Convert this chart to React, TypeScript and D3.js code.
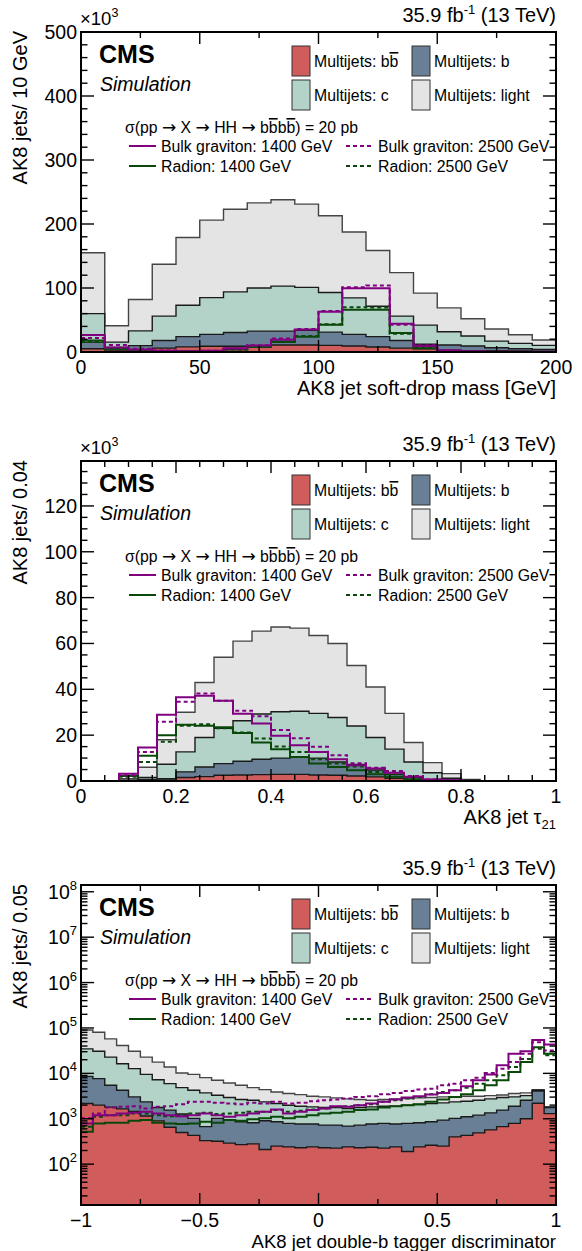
import * as d3 from 'd3'
import type { ReactNode } from 'react'

const FONT = '"Liberation Sans", Arial, Helvetica, sans-serif'
const LEFT = 81
const RIGHT = 556
const PANEL_H = 320

const FILL = { bb: '#d05c5c', b: '#687f95', c: '#b3d3c8', light: '#e4e4e4' }
const PURPLE = '#800080'
const GREEN = '#0a480a'

// ---- panel 1: soft-drop mass, 10 GeV bins, values in 10^3 jets
const massEdges = d3.range(0, 201, 10)
const massBB = [5, 3, 3, 6, 8, 9, 9, 9, 11, 11, 10.4, 9.3, 7.8, 6, 5, 3, 2, 2, 1.5, 1]
const massB = [10.5, 4, 7, 12, 16, 18.5, 21.5, 23.6, 21.6, 23, 20.6, 18.2, 16.2, 12, 7, 8, 7.3, 4.7, 3.5, 3]
const massC = [44.5, 8.5, 23, 38, 49, 57.5, 63.5, 67.4, 70.4, 67, 62, 57, 47.5, 38, 30, 20.6, 15.7, 10.3, 8.5, 6.4]
const massLight = [95, 25.5, 49, 81, 106, 121, 129, 133, 135, 130, 120, 103, 87, 68, 50, 37.4, 27, 19, 13.5, 8.3]
const massBulk1400 = [26.4, 7, 4, 2, 1, 2, 5.7, 10, 19, 35, 63, 99.5, 99.5, 44, 9.3, 2.5, 1, 0.5, 0.3, 0.2]
const massBulk2500 = [22, 11, 5, 2.5, 1.2, 2, 5, 10.5, 21, 36, 64, 101, 104, 42.5, 10.4, 2.5, 1, 0.5, 0.3, 0.2]
const massRad1400 = [18, 5, 2.5, 1.5, 1, 1.5, 4, 8, 15.5, 24, 42.5, 66, 66, 29.5, 5.7, 1.5, 0.7, 0.4, 0.2, 0.1]
const massRad2500 = [15.5, 6, 3, 1.5, 1, 1.5, 4, 8.5, 16, 25, 43.5, 70, 69.5, 28.5, 6.7, 1.5, 0.7, 0.4, 0.2, 0.1]

// ---- panel 2: tau21, 0.04 bins, values in 10^3 jets
const tauEdges = d3.range(26).map((i) => i * 0.04)
const tauBB = [0, 0, 0, 0, 0.3, 1.5, 1.9, 2.5, 2.6, 2.8, 2.9, 2.9, 2.6, 2.5, 2.2, 1.8, 1.2, 0.7, 0.3, 0, 0, 0, 0, 0, 0]
const tauB = [0, 0, 0.1, 0.7, 0.7, 2.5, 4.2, 5.1, 6, 6.7, 7.1, 7.5, 7.4, 5.8, 5, 3, 1.7, 0.9, 0.4, 0.3, 0, 0, 0, 0, 0]
const tauC = [0, 0, 0.2, 0.8, 6.3, 8.7, 12.9, 15.4, 17.7, 19.7, 20.2, 20, 19.5, 19.4, 16.8, 14.2, 11, 6.7, 2.9, 0.9, 0.3, 0, 0, 0, 0]
const tauLight = [0, 0, 0.7, 4.5, 10.7, 17.3, 24, 31, 34.7, 36.2, 37, 36.3, 34, 32.3, 26.4, 22, 15.6, 8.5, 4.4, 2, 0.4, 0, 0, 0, 0]
const tauBulk1400 = [0, 0, 3.2, 14.6, 28.9, 36.5, 37.2, 35, 29.3, 25.1, 19.7, 15.6, 12.7, 9.5, 6.9, 5.4, 3.6, 1.8, 0.7, 0.3, 0, 0, 0, 0, 0]
const tauBulk2500 = [0, 0, 2.5, 12.7, 25.8, 34.6, 38.2, 35, 30.7, 28.2, 22.3, 18.7, 14.9, 11.2, 7.7, 5.8, 4.4, 2.2, 0.7, 0.2, 0, 0, 0, 0, 0]
const tauRad1400 = [0, 0, 2.2, 11, 20, 24.5, 24.1, 23.4, 20.9, 16.8, 13.9, 10.5, 7.6, 6.1, 4.7, 2.9, 1.9, 0.7, 0.3, 0, 0, 0, 0, 0, 0]
const tauRad2500 = [0, 0, 1.9, 8.3, 17.1, 24.1, 24.8, 23, 21.2, 18.5, 15, 12.7, 9.5, 7.6, 6.3, 3.9, 2.9, 1.2, 0.4, 0.1, 0, 0, 0, 0, 0]

// ---- panel 3: double-b discriminator, 0.05 bins, jets (log scale)
const dbEdges = d3.range(41).map((i) => -1 + i * 0.05)
const dbBB = [2170, 2000, 1800, 1650, 1450, 1150, 900, 650, 500, 430, 330, 320, 290, 270, 280, 210, 250, 240, 230, 240, 230, 225, 240, 230, 235, 225, 240, 190, 240, 260, 250, 400, 430, 490, 570, 670, 790, 1000, 2200, 1300]
const dbB = [6430, 5640, 3660, 2590, 1580, 1210, 870, 900, 770, 590, 340, 700, 645, 590, 537, 694, 609, 550, 534, 524, 496, 501, 450, 496, 529, 565, 524, 600, 577, 599, 685, 620, 680, 710, 780, 880, 1100, 1560, 1900, 470]
const dbC = [26100, 23160, 17340, 12060, 9670, 7140, 5490, 4390, 3580, 3220, 3040, 2280, 1995, 1790, 1743, 1456, 1311, 1200, 1126, 1066, 1044, 1044, 990, 1044, 1066, 1100, 1126, 1200, 1243, 1311, 1305, 1340, 1330, 1360, 1390, 1380, 1140, 680, 150, 30]
const dbLight = [55700, 49500, 34600, 24700, 18100, 13300, 10440, 7860, 5350, 5260, 4330, 3730, 3210, 2810, 2290, 2030, 1730, 1600, 1520, 1300, 1260, 1110, 1060, 880, 730, 760, 850, 800, 820, 760, 790, 670, 690, 570, 500, 420, 560, 470, 140, 30]
const dbBulk1400 = [790, 1200, 1200, 1310, 1350, 1420, 1310, 1200, 1140, 1200, 1310, 1200, 1110, 1200, 1310, 1420, 1600, 1310, 1420, 1550, 1680, 1890, 1830, 1990, 2170, 2360, 2650, 2930, 3130, 3410, 3710, 4240, 5190, 7030, 9500, 15000, 27000, 30800, 54600, 43200]
const dbBulk2500 = [1020, 1310, 1770, 1830, 1890, 1680, 1830, 1890, 2100, 2360, 2360, 2240, 2170, 2100, 2240, 2170, 2360, 2170, 2240, 2440, 2560, 2650, 2790, 3030, 3130, 3470, 3710, 4100, 4390, 4610, 5460, 5940, 7030, 8040, 10200, 12700, 17700, 27000, 48500, 31900]
const dbRad1400 = [520, 790, 817, 817, 904, 935, 817, 790, 764, 790, 859, 817, 935, 904, 970, 1020, 1110, 1020, 1110, 1200, 1310, 1350, 1420, 1550, 1600, 1770, 1890, 1990, 2100, 2360, 2650, 3030, 3470, 4240, 5460, 7030, 10700, 17700, 37700, 27000]
const dbRad2500 = [668, 1110, 1200, 1200, 1310, 1310, 1200, 1140, 1200, 1310, 1350, 1270, 1310, 1350, 1420, 1420, 1550, 1420, 1500, 1600, 1680, 1830, 1890, 1990, 2100, 2360, 2560, 2790, 3030, 3470, 3900, 4240, 4850, 5940, 7030, 9040, 13800, 20700, 34700, 25000]

interface Signal { vals: number[]; color: string; dashed: boolean }
interface PanelProps {
  top: number
  edges: number[]
  stack: number[][]
  signals: Signal[]
  xDomain: [number, number]
  yDomain: [number, number]
  log?: boolean
  xMajor: number[]
  xMinor: number[]
  xLabels: string[]
  yMajor: number[]
  yMinor: number[]
  yLabels: ReactNode[]
  yTitle: string
  xTitle: ReactNode
  xTitleSize?: number
  exponent?: boolean
  id: string
}

const STACK_FILLS = [FILL.bb, FILL.b, FILL.c, FILL.light]

function Panel(p: PanelProps) {
  const bottom = p.top + PANEL_H
  const x = d3.scaleLinear().domain(p.xDomain).range([LEFT, RIGHT])
  const y = p.log
    ? d3.scaleLog().domain(p.yDomain).range([bottom, p.top])
    : d3.scaleLinear().domain(p.yDomain).range([bottom, p.top])
  const yMin = p.yDomain[0]
  const yv = (v: number) => y(Math.max(v, yMin))

  const pts = (vals: number[]) => vals.flatMap((v, i) => [[p.edges[i], v], [p.edges[i + 1], v]] as [number, number][])
  const line = d3.line<[number, number]>().x((d) => x(d[0])).y((d) => yv(d[1]))
  const area = d3.area<[number, number]>().x((d) => x(d[0])).y0(y(yMin)).y1((d) => yv(d[1]))

  // cumulative stack: bb, bb+b, bb+b+c, total
  const cum: number[][] = []
  p.stack.forEach((s, k) => cum.push(s.map((v, i) => v + (k ? cum[k - 1][i] : 0))))

  const tk = 1.4
  return (
    <g>
      <defs>
        <clipPath id={p.id}>
          <rect x={LEFT} y={p.top} width={RIGHT - LEFT} height={PANEL_H} />
        </clipPath>
      </defs>
      <g clipPath={`url(#${p.id})`}>
        {[3, 2, 1, 0].map((k) => (
          <g key={k}>
            <path d={area(pts(cum[k])) ?? ''} fill={STACK_FILLS[k]} />
            <path d={line(pts(cum[k])) ?? ''} fill="none" stroke={k === 3 ? '#444' : '#1a1a1a'} strokeWidth={1.4} />
          </g>
        ))}
        {p.signals.map((s, i) => (
          <path key={i} d={line(pts(s.vals)) ?? ''} fill="none" stroke={s.color} strokeWidth={2}
            strokeDasharray={s.dashed ? '4 3' : undefined} />
        ))}
      </g>

      {/* ticks */}
      {p.yMajor.map((v) => (
        <g key={'ym' + v} stroke="#000" strokeWidth={tk}>
          <line x1={LEFT} x2={LEFT + 13} y1={y(v)} y2={y(v)} />
          <line x1={RIGHT - 13} x2={RIGHT} y1={y(v)} y2={y(v)} />
        </g>
      ))}
      {p.yMinor.map((v) => (
        <g key={'yn' + v} stroke="#000" strokeWidth={tk}>
          <line x1={LEFT} x2={LEFT + 6.5} y1={y(v)} y2={y(v)} />
          <line x1={RIGHT - 6.5} x2={RIGHT} y1={y(v)} y2={y(v)} />
        </g>
      ))}
      {p.xMajor.map((v) => (
        <g key={'xm' + v} stroke="#000" strokeWidth={tk}>
          <line x1={x(v)} x2={x(v)} y1={bottom} y2={bottom - 12} />
          <line x1={x(v)} x2={x(v)} y1={p.top} y2={p.top + 12} />
        </g>
      ))}
      {p.xMinor.map((v) => (
        <g key={'xn' + v} stroke="#000" strokeWidth={tk}>
          <line x1={x(v)} x2={x(v)} y1={bottom} y2={bottom - 6} />
          <line x1={x(v)} x2={x(v)} y1={p.top} y2={p.top + 6} />
        </g>
      ))}
      <rect x={LEFT} y={p.top} width={RIGHT - LEFT} height={PANEL_H} fill="none" stroke="#000" strokeWidth={2} />

      {/* tick labels and titles */}
      <g fontFamily={FONT} fontSize={19.5} fill="#000">
        {p.yMajor.map((v, i) => (
          <text key={'yl' + v} x={LEFT - 4} y={y(v) + 7} textAnchor="end">{p.yLabels[i]}</text>
        ))}
        {p.xMajor.map((v, i) => (
          <text key={'xl' + v} x={x(v)} y={bottom + 22} textAnchor="middle">{p.xLabels[i]}</text>
        ))}
        <text transform={`translate(27, ${p.top - 1}) rotate(-90)`} textAnchor="end" fontSize={20}>{p.yTitle}</text>
        <text x={RIGHT} y={bottom + 43} textAnchor="end" fontSize={p.xTitleSize ?? 20}>{p.xTitle}</text>
        <text x={RIGHT} y={p.top - 10} textAnchor="end" fontSize={20}>
          35.9 fb<tspan fontSize={13} dy={-8}>-1</tspan><tspan dy={8}> (13 TeV)</tspan>
        </text>
        {p.exponent && (
          <text x={LEFT - 1} y={p.top - 7} fontSize={18.5}>
            ×10<tspan fontSize={12.5} dy={-8}>3</tspan>
          </text>
        )}
      </g>
      <Legend top={p.top} />
    </g>
  )
}

function Ov({ children }: { children: ReactNode }) {
  return <tspan style={{ textDecoration: 'overline' }}>{children}</tspan>
}

function Arrow() {
  return <tspan fontFamily='"DejaVu Sans", sans-serif' fontSize={17}>→</tspan>
}

function Legend({ top }: { top: number }) {
  const boxes = [
    { x: 292, y: top + 14, fill: FILL.bb, label: <>Multijets: b<Ov>b</Ov></> },
    { x: 412, y: top + 14, fill: FILL.b, label: <>Multijets: b</> },
    { x: 292, y: top + 48, fill: FILL.c, label: <>Multijets: c</> },
    { x: 412, y: top + 48, fill: FILL.light, label: <>Multijets: light</> },
  ]
  const lines = [
    { x: 129, y: top + 114, color: PURPLE, dashed: false, label: 'Bulk graviton: 1400 GeV' },
    { x: 346, y: top + 114, color: PURPLE, dashed: true, label: 'Bulk graviton: 2500 GeV' },
    { x: 129, y: top + 134, color: GREEN, dashed: false, label: 'Radion: 1400 GeV' },
    { x: 346, y: top + 134, color: GREEN, dashed: true, label: 'Radion: 2500 GeV' },
  ]
  return (
    <g fontFamily={FONT} fill="#000">
      <text x={99} y={top + 31} fontSize={25} fontWeight="bold">CMS</text>
      <text x={100} y={top + 59} fontSize={19.5} fontStyle="italic">Simulation</text>
      {boxes.map((b, i) => (
        <g key={i}>
          <rect x={b.x} y={b.y} width={18} height={30} fill={b.fill} stroke="#333" strokeWidth={1} />
          <text x={b.x + 22} y={b.y + 21} fontSize={15.8}>{b.label}</text>
        </g>
      ))}
      <text x={125} y={top + 101} fontSize={15.8}>
        σ(pp <Arrow /> X <Arrow /> HH <Arrow /> b<Ov>b</Ov>b<Ov>b</Ov>) = 20 pb
      </text>
      {lines.map((l, i) => (
        <g key={i}>
          <line x1={l.x} x2={l.x + 27} y1={l.y} y2={l.y} stroke={l.color} strokeWidth={2}
            strokeDasharray={l.dashed ? '4 3' : undefined} />
          <text x={l.x + 32} y={l.y + 5.5} fontSize={15.8}>{l.label}</text>
        </g>
      ))}
    </g>
  )
}

const sup = (n: number) => <>10<tspan fontSize={13} dy={-9}>{n}</tspan></>

export default function App() {
  const sig = (a: number[], b: number[], c: number[], d: number[]): Signal[] => [
    { vals: c, color: GREEN, dashed: false },
    { vals: d, color: GREEN, dashed: true },
    { vals: a, color: PURPLE, dashed: false },
    { vals: b, color: PURPLE, dashed: true },
  ]
  const logMajor = d3.range(2, 9).map((e) => Math.pow(10, e))
  const logMinor = d3.range(1, 9).flatMap((e) => d3.range(2, 10).map((m) => m * Math.pow(10, e)))
    .filter((v) => v > 12.6 && v < 1.41e8)

  return (
    <div style={{ position: 'absolute', left: 0, top: 0 }}>
      <svg width={582} height={1251} style={{ display: 'block', background: '#fff' }}>
        <Panel id="p1" top={32} edges={massEdges} stack={[massBB, massB, massC, massLight]}
          signals={sig(massBulk1400, massBulk2500, massRad1400, massRad2500)}
          xDomain={[0, 200]} yDomain={[0, 500]}
          xMajor={[0, 50, 100, 150, 200]} xMinor={[25, 75, 125, 175]} xLabels={['0', '50', '100', '150', '200']}
          yMajor={d3.range(0, 501, 100)} yMinor={d3.range(20, 500, 20).filter((v) => v % 100)}
          yLabels={['0', '100', '200', '300', '400', '500']}
          yTitle="AK8 jets/ 10 GeV" xTitle="AK8 jet soft-drop mass [GeV]" exponent />
        <Panel id="p2" top={461} edges={tauEdges} stack={[tauBB, tauB, tauC, tauLight]}
          signals={sig(tauBulk1400, tauBulk2500, tauRad1400, tauRad2500)}
          xDomain={[0, 1]} yDomain={[0, 139.6]}
          xMajor={[0, 0.2, 0.4, 0.6, 0.8, 1]} xMinor={d3.range(1, 20).filter((i) => i % 4).map((i) => i * 0.05)}
          xLabels={['0', '0.2', '0.4', '0.6', '0.8', '1']}
          yMajor={d3.range(0, 121, 20)} yMinor={d3.range(5, 140, 5).filter((v) => v % 20)}
          yLabels={['0', '20', '40', '60', '80', '100', '120']}
          yTitle="AK8 jets/ 0.04" xTitle={<>AK8 jet τ<tspan fontSize={13} dy={5}>21</tspan></>} exponent />
        <Panel id="p3" top={885} edges={dbEdges} stack={[dbBB, dbB, dbC, dbLight]}
          signals={sig(dbBulk1400, dbBulk2500, dbRad1400, dbRad2500)}
          xDomain={[-1, 1]} yDomain={[12.6, 1.41e8]} log
          xMajor={[-1, -0.5, 0, 0.5, 1]} xMinor={[-0.75, -0.25, 0.25, 0.75]}
          xLabels={['−1', '−0.5', '0', '0.5', '1']}
          yMajor={logMajor} yMinor={logMinor}
          yLabels={d3.range(2, 9).map((e) => sup(e))}
          yTitle="AK8 jets/ 0.05" xTitle="AK8 jet double-b tagger discriminator" xTitleSize={18.5} />
      </svg>
    </div>
  )
}
